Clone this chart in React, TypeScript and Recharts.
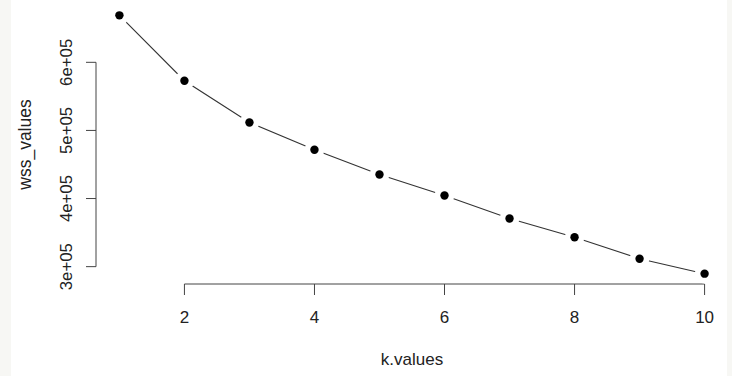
import React from "react";
import { LineChart, Line, XAxis, YAxis, ReferenceLine } from "recharts";

const kValues = [1, 2, 3, 4, 5, 6, 7, 8, 9, 10];
const wssValues = [669000, 573000, 511700, 471700, 435200, 404400, 370600, 343200, 311700, 289700];
const xTicks = [2, 4, 6, 8, 10];
const yTicks = [300000, 400000, 500000, 600000];

const data = kValues.map((k, i) => ({ k, wss: wssValues[i] }));

const kMin = Math.min(...kValues);
const kMax = Math.max(...kValues);
const wMin = Math.min(...wssValues);
const wMax = Math.max(...wssValues);
const xLo = kMin - 0.04 * (kMax - kMin);
const xHi = kMax + 0.04 * (kMax - kMin);
const yLo = wMin - 0.04 * (wMax - wMin);
const yHi = wMax + 0.04 * (wMax - wMin);

const fmt = (v: number) => `${Math.round(v / 100000)}e+05`;
const FONT = "'Liberation Sans', Arial, Helvetica, sans-serif";

const YTick = (props: any) => {
  const { x, y, payload } = props;
  return (
    <text
      x={x}
      y={y}
      transform={`rotate(-90, ${x}, ${y})`}
      textAnchor="middle"
      fontSize={16.8}
      fontFamily={FONT}
      fill="#222"
    >
      {fmt(payload.value)}
    </text>
  );
};

const Dot = (props: any) => {
  const { cx, cy, index } = props;
  return (
    <g key={`d${index}`}>
      <circle cx={cx} cy={cy} r={9.8} fill="#fff" />
      <circle cx={cx} cy={cy} r={4.2} fill="#000" />
    </g>
  );
};

export default function App() {
  return (
    <div style={{ position: "absolute", left: 0, top: 0, width: 732, height: 376, background: "#fff" }}>
      <div style={{ position: "absolute", left: 0, top: 0, width: 11, height: 376, background: "#f7f7f4" }} />
      <div style={{ position: "absolute", right: 0, top: 0, width: 5, height: 376, background: "#f7f7f4" }} />
      <div style={{ position: "absolute", left: 0, top: 0 }}>
        <LineChart width={732} height={376} data={data} margin={{ top: 5, right: 4, bottom: 0, left: 0 }}>
          <XAxis
            dataKey="k"
            type="number"
            domain={[xLo, xHi]}
            ticks={xTicks}
            allowDataOverflow
            axisLine={false}
            tickSize={11}
            tickMargin={16}
            tickLine={{ stroke: "#444", strokeWidth: 1 }}
            tick={{ fontSize: 17, fontFamily: FONT, fill: "#222" }}
            height={92}
            label={{
              content: (p: any) => {
                const vb = p.viewBox;
                return (
                  <text
                    x={vb.x + vb.width / 2}
                    y={vb.y + 81}
                    textAnchor="middle"
                    fontSize={17}
                    fontFamily={FONT}
                    fill="#222"
                  >
                    k.values
                  </text>
                );
              },
            }}
          />
          <YAxis
            type="number"
            domain={[yLo, yHi]}
            ticks={yTicks}
            allowDataOverflow
            axisLine={false}
            tickSize={10}
            tickMargin={14}
            tickLine={{ stroke: "#444", strokeWidth: 1 }}
            tick={<YTick />}
            width={96}
            label={{
              content: (p: any) => {
                const vb = p.viewBox;
                const x = 31;
                const y = vb.y + vb.height / 2;
                return (
                  <text
                    x={x}
                    y={y}
                    transform={`rotate(-90, ${x}, ${y})`}
                    textAnchor="middle"
                    fontSize={17.5}
                    fontFamily={FONT}
                    fill="#222"
                  >
                    wss_values
                  </text>
                );
              },
            }}
          />
          <ReferenceLine
            segment={[{ x: xTicks[0], y: yLo }, { x: xTicks[xTicks.length - 1], y: yLo }]}
            stroke="#444"
            strokeWidth={1}
            ifOverflow="visible"
          />
          <ReferenceLine
            segment={[{ x: xLo, y: yTicks[0] }, { x: xLo, y: yTicks[yTicks.length - 1] }]}
            stroke="#444"
            strokeWidth={1}
            ifOverflow="visible"
          />
          <Line
            dataKey="wss"
            type="linear"
            stroke="#333"
            strokeWidth={1.1}
            dot={<Dot />}
            activeDot={false}
            isAnimationActive={false}
          />
        </LineChart>
      </div>
    </div>
  );
}
